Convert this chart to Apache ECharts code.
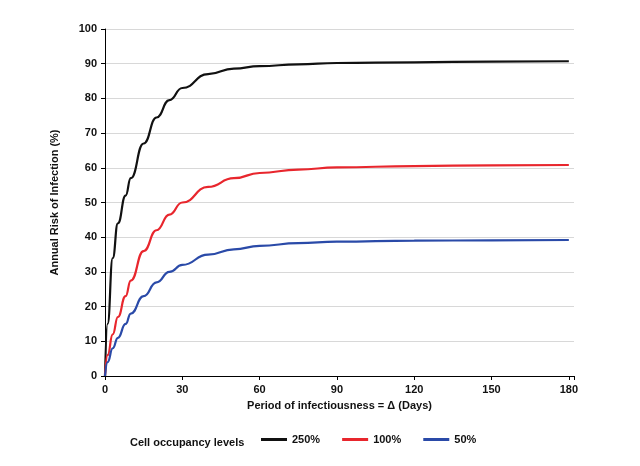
<!DOCTYPE html>
<html><head><meta charset="utf-8">
<script src="https://cdn.jsdelivr.net/npm/echarts@6/dist/echarts.min.js"></script>
<style>html,body{margin:0;padding:0;background:#fff}#c{width:640px;height:466px}</style>
</head><body><div id="c"></div>
<script>
// days and annual risk (%) per occupancy level
var days = [0, 1, 3, 5, 8, 10, 15, 20, 25, 30, 40, 50, 60, 75, 90, 120, 150, 180];
var occ250 = [0, 15, 34, 44, 52, 57, 67, 74.5, 79.5, 83, 87, 88.6, 89.3, 89.8, 90.2, 90.4, 90.6, 90.7];
var occ100 = [0, 6, 12, 17, 23, 27.5, 36, 42, 46.5, 50, 54.5, 57, 58.5, 59.5, 60.1, 60.5, 60.7, 60.8];
var occ50 = [0, 4, 8, 11, 15, 18, 23, 27, 30, 32, 35, 36.5, 37.5, 38.3, 38.7, 39, 39.1, 39.2];

function pairs(v) { return days.map(function (d, i) { return [d, v[i]]; }); }
function line(name, color, v) {
    return {name: name, type: 'line', smooth: true, smoothMonotone: 'x', symbol: 'none', data: pairs(v),
        lineStyle: {color: color, width: 2.2}, itemStyle: {color: color}};
}

var chart = echarts.init(document.getElementById('c'));
chart.setOption({
    animation: false,
    textStyle: {fontFamily: 'Liberation Sans'},
    grid: {left: 105, right: 66, top: 29, bottom: 90},
    legend: {
        bottom: 16, left: 256, itemWidth: 26, itemHeight: 3, itemGap: 22,
        icon: 'rect',
        textStyle: {fontWeight: 'bold', fontSize: 11, color: '#111'},
        data: ['250%', '100%', '50%']
    },
    graphic: [{type: 'text', left: 130, bottom: 18,
        style: {text: 'Cell occupancy levels', font: 'bold 11px Liberation Sans', fill: '#111'}}],
    xAxis: {
        type: 'value', min: 0, max: 182, interval: 30,
        name: 'Period of infectiousness = Δ (Days)', nameLocation: 'middle', nameGap: 24,
        nameTextStyle: {fontWeight: 'bold', fontSize: 11, color: '#111'},
        axisLine: {lineStyle: {color: '#000'}},
        axisTick: {show: true, length: 4, lineStyle: {color: '#000'}},
        axisLabel: {fontWeight: 'bold', fontSize: 11, color: '#111',
            formatter: function (v) { return v % 30 === 0 ? v : ''; }},
        splitLine: {show: false}
    },
    yAxis: {
        type: 'value', min: 0, max: 100, interval: 10,
        name: 'Annual Risk of Infection (%)', nameLocation: 'middle', nameGap: 45,
        nameTextStyle: {fontWeight: 'bold', fontSize: 11, color: '#111'},
        axisLine: {show: true, lineStyle: {color: '#000'}},
        axisTick: {show: true, length: 4, lineStyle: {color: '#000'}},
        axisLabel: {fontWeight: 'bold', fontSize: 11, color: '#111'},
        splitLine: {lineStyle: {color: '#d8d8d8'}}
    },
    series: [
        line('250%', '#111111', occ250),
        line('100%', '#e8262d', occ100),
        line('50%', '#2a4aa8', occ50)
    ]
});
</script></body></html>
